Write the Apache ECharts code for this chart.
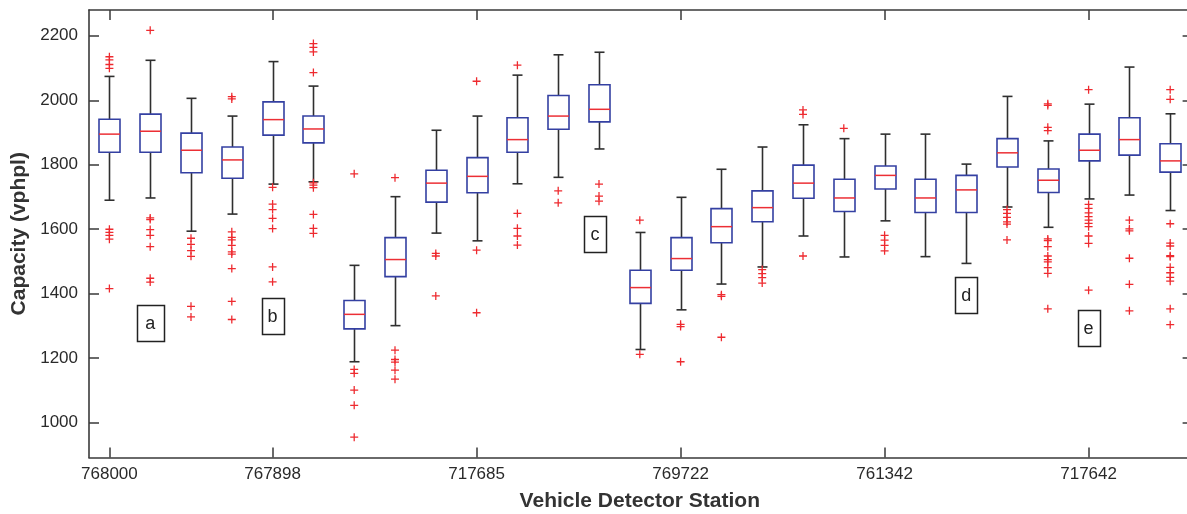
<!DOCTYPE html>
<html>
<head>
<meta charset="utf-8">
<script src="https://cdn.jsdelivr.net/npm/echarts@6/dist/echarts.min.js"></script>
<style>
  html, body { margin: 0; padding: 0; background: #fff; }
  #chart { width: 1187px; height: 514px; }
</style>
</head>
<body>
<div id="chart"></div>
<script>
// 27 stations along x, at positions 0..26; only some carry a printed label
const stationCount = 27;
const xTicks = [0, 4, 9, 14, 19, 24];
const xTickLabels = ['768000', '767898', '717685', '769722', '761342', '717642'];
const yTicks = [1000, 1200, 1400, 1600, 1800, 2000, 2200];

// box statistics per station (vphpl)
const lowWhisker  = [1690, 1697, 1594, 1647, 1740, 1747, 1189, 1301, 1588, 1564, 1741, 1761, 1849, 1227,
  1350, 1430, 1483, 1579, 1514, 1626, 1515, 1494, 1669, 1606, 1694, 1706, 1658];
const q1          = [1839, 1839, 1775, 1758, 1892, 1868, 1291, 1453, 1684, 1713, 1839, 1910, 1933, 1370,
  1473, 1558, 1623, 1696, 1655, 1725, 1652, 1652, 1793, 1714, 1812, 1830, 1777];
const median      = [1895, 1904, 1845, 1815, 1940, 1911, 1336, 1506, 1743, 1764, 1878, 1951, 1972, 1419,
  1509, 1608, 1667, 1743, 1697, 1767, 1697, 1722, 1837, 1752, 1845, 1878, 1812];
const q3          = [1941, 1957, 1898, 1855, 1995, 1951, 1379, 1574, 1783, 1822, 1946, 2015, 2048, 1473,
  1574, 1664, 1719, 1799, 1755, 1796, 1755, 1767, 1881, 1787, 1895, 1946, 1865];
const highWhisker = [2074, 2124, 2006, 1951, 2120, 2044, 1488, 1701, 1907, 1951, 2078, 2141, 2149, 1590,
  1699, 1786, 1855, 1924, 1881, 1895, 1895, 1802, 2012, 1874, 1988, 2103, 1958];

const outliers = [
  [2135, 2125, 2111, 2099, 1600, 1590, 1581, 1569, 1416],
  [2217, 1635, 1630, 1599, 1581, 1546, 1448, 1436],
  [1572, 1553, 1534, 1516, 1361, 1328],
  [2011, 2004, 1592, 1575, 1567, 1550, 1530, 1523, 1478, 1376, 1320],
  [1730, 1678, 1661, 1634, 1602, 1483, 1437],
  [2176, 2164, 2150, 2086, 1744, 1737, 1729, 1646, 1603, 1587],
  [1772, 1165, 1153, 1101, 1054, 955],
  [1760, 1225, 1196, 1188, 1163, 1135],
  [1525, 1517, 1393],
  [2059, 1535, 1341],
  [2109, 1649, 1603, 1579, 1551],
  [1719, 1682],
  [1740, 1703, 1687],
  [1628, 1212],
  [1305, 1298, 1189],
  [1397, 1392, 1265],
  [1475, 1462, 1450, 1433],
  [1970, 1956, 1517],
  [1913],
  [1581, 1566, 1550, 1533],
  [],
  [],
  [1661, 1649, 1637, 1623, 1616, 1567],
  [1989, 1984, 1916, 1906, 1570, 1565, 1546, 1517, 1506, 1499, 1481, 1463, 1353],
  [2033, 1677, 1665, 1651, 1639, 1628, 1618, 1608, 1579, 1556, 1411],
  [1628, 1601, 1595, 1510, 1429, 1347],
  [2033, 2003, 1617, 1557, 1548, 1518, 1515, 1482, 1465, 1451, 1439, 1353, 1304]
];

// boxed letters placed on the plot
const noteText = ['a', 'b', 'c', 'd', 'e'];
const noteX = [1, 4, 11.9, 21, 24];
const noteY = [1308, 1332, 1586, 1397, 1293];

const FONT = '"Liberation Sans", Arial, Helvetica, sans-serif';
const AXIS = '#3a3a3a';
const BOX_BLUE = '#3440a2';
const MED_RED = '#ec2f35';
const WHISK = '#2f2f2f';
const OUT_RED = '#ee2a2f';

const chart = echarts.init(document.getElementById('chart'), null, { renderer: 'canvas' });

const boxData = lowWhisker.map((lo, i) => [i, lo, q1[i], median[i], q3[i], highWhisker[i]]);
const outlierData = [];
outliers.forEach((arr, i) => arr.forEach((v) => outlierData.push([i, v])));
const noteData = noteText.map((t, i) => [noteX[i], noteY[i]]);

function renderBox(params, api) {
  const x = api.value(0);
  const lo = api.coord([x, api.value(1)]);
  const b1 = api.coord([x, api.value(2)]);
  const md = api.coord([x, api.value(3)]);
  const b3 = api.coord([x, api.value(4)]);
  const hi = api.coord([x, api.value(5)]);
  const cx = Math.round(lo[0]) + 0.5;
  const bw = 21, cw = 10;
  const wStyle = { stroke: WHISK, lineWidth: 1.6, fill: null };
  return {
    type: 'group',
    children: [
      { type: 'line', shape: { x1: cx, y1: lo[1], x2: cx, y2: b1[1] }, style: wStyle },
      { type: 'line', shape: { x1: cx, y1: b3[1], x2: cx, y2: hi[1] }, style: wStyle },
      { type: 'line', shape: { x1: cx - cw / 2, y1: lo[1], x2: cx + cw / 2, y2: lo[1] }, style: wStyle },
      { type: 'line', shape: { x1: cx - cw / 2, y1: hi[1], x2: cx + cw / 2, y2: hi[1] }, style: wStyle },
      { type: 'rect', shape: { x: cx - bw / 2, y: b3[1], width: bw, height: b1[1] - b3[1] },
        style: { fill: '#fff', stroke: BOX_BLUE, lineWidth: 1.6 } },
      { type: 'line', shape: { x1: cx - bw / 2, y1: md[1], x2: cx + bw / 2, y2: md[1] },
        style: { stroke: MED_RED, lineWidth: 1.5 } }
    ]
  };
}

function renderNote(params, api) {
  const p = api.coord([api.value(0), api.value(1)]);
  const w = params.dataIndex === 0 ? 27 : 22, h = 36;
  return {
    type: 'group',
    children: [
      { type: 'rect', shape: { x: Math.round(p[0] - w / 2) + 0.5, y: Math.round(p[1] - h / 2) + 0.5, width: w, height: h },
        style: { fill: '#fff', stroke: '#222', lineWidth: 1.5 } },
      { type: 'text', x: p[0], y: p[1] + 1,
        style: { text: noteText[params.dataIndex], fontSize: 18, fontFamily: FONT, fill: '#222',
          align: 'center', verticalAlign: 'middle' } }
    ]
  };
}

const xLabel = (v) => {
  const k = xTicks.indexOf(Math.round(v));
  return k >= 0 ? xTickLabels[k] : '';
};

const tickStyle = { color: AXIS, width: 1.5 };
const lineStyle = { color: AXIS, width: 1.6 };

chart.setOption({
  animation: false,
  backgroundColor: '#fff',
  grid: { left: 89, right: -3.6, top: 10, bottom: 56.5, outerBoundsMode: 'none', containLabel: false },
  xAxis: [
    {
      type: 'value',
      min: -0.5,
      max: stationCount - 0.5,
      position: 'bottom',
      name: 'Vehicle Detector Station',
      nameLocation: 'middle',
      nameGap: 33,
      nameTextStyle: { fontFamily: FONT, fontWeight: 'bold', fontSize: 21, color: '#333' },
      axisLine: { onZero: false, lineStyle },
      axisTick: { inside: true, length: 10, customValues: xTicks, lineStyle: tickStyle },
      axisLabel: { customValues: xTicks, margin: 8, fontSize: 17, fontFamily: FONT, color: '#2a2a2a', formatter: xLabel },
      splitLine: { show: false }
    },
    {
      type: 'value',
      min: -0.5,
      max: stationCount - 0.5,
      position: 'top',
      axisLine: { onZero: false, lineStyle },
      axisTick: { inside: true, length: 10, customValues: xTicks, lineStyle: tickStyle },
      axisLabel: { show: false },
      splitLine: { show: false }
    }
  ],
  yAxis: [
    {
      type: 'value',
      min: 892,
      max: 2280,
      position: 'left',
      name: 'Capacity (vphpl)',
      nameLocation: 'middle',
      nameGap: 48,
      nameTextStyle: { fontFamily: FONT, fontWeight: 'bold', fontSize: 21, color: '#333' },
      axisLine: { show: true, onZero: false, lineStyle },
      axisTick: { show: true, inside: true, length: 10, customValues: yTicks, lineStyle: tickStyle },
      axisLabel: { customValues: yTicks, margin: 11, fontSize: 17, fontFamily: FONT, color: '#2a2a2a',
        formatter: (v) => String(v) },
      splitLine: { show: false }
    },
    {
      type: 'value',
      min: 892,
      max: 2280,
      position: 'right',
      axisLine: { show: true, onZero: false, lineStyle },
      axisTick: { show: true, inside: true, length: 8, customValues: yTicks, lineStyle: tickStyle },
      axisLabel: { show: false },
      splitLine: { show: false }
    }
  ],
  series: [
    {
      type: 'custom',
      name: 'boxes',
      xAxisIndex: 0,
      yAxisIndex: 0,
      renderItem: renderBox,
      encode: { x: 0, y: [1, 2, 3, 4, 5] },
      data: boxData,
      z: 2
    },
    {
      type: 'scatter',
      name: 'outliers',
      xAxisIndex: 0,
      yAxisIndex: 0,
      symbol: 'path://M4.2,0H5.8V10H4.2ZM0,4.2H10V5.8H0Z',
      symbolSize: 8,
      itemStyle: { color: OUT_RED, opacity: 1 },
      data: outlierData,
      z: 3
    },
    {
      type: 'custom',
      name: 'notes',
      xAxisIndex: 0,
      yAxisIndex: 0,
      renderItem: renderNote,
      encode: { x: 0, y: 1 },
      data: noteData,
      z: 4
    }
  ]
});
</script>
</body>
</html>
